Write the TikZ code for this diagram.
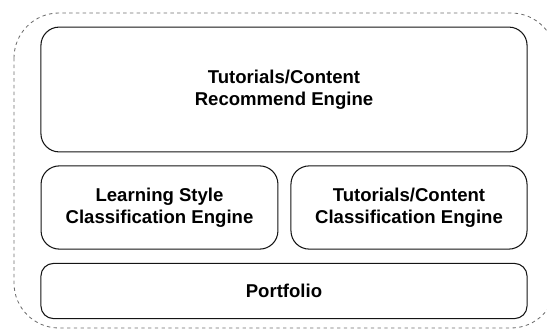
\documentclass[tikz,border=0pt]{standalone}
\usepackage{fontspec}
\setmainfont{Liberation Sans}
\usepackage{tikz}
\usetikzlibrary{positioning}
\definecolor{mydark}{RGB}{20,20,20}
\definecolor{mgframe}{RGB}{110,110,110}
\tikzset{
  block/.style={rectangle, draw=mydark, fill=white,
    align=center, font=\fontsize{13.2}{15.6}\selectfont\bfseries,
    rounded corners=13pt, line width=0.75pt, inner sep=0pt},
  frame/.style={dashed, dash pattern=on 2.4pt off 2.4pt, color=mgframe,
    line width=0.6pt, rounded corners=32pt}
}
\begin{document}
\begin{tikzpicture}[x=0.025cm, y=-0.025cm]
  \useasboundingbox (0,0) rectangle (547,329);
  % outer dashed container
  \draw[frame] (14,13) rectangle (556,328);

  % engines
  \node[block, minimum width=12.15cm, minimum height=3.12cm] (recommend) at (284,89.5)
    {Tutorials/Content\\Recommend Engine};
  \node[block, minimum width=5.92cm, minimum height=2.08cm] (lsce) at (159.5,207.5)
    {Learning Style\\Classification Engine};
  \node[block, minimum width=5.9cm, minimum height=2.08cm] (tcce) at (409,207.5)
    {Tutorials/Content\\Classification Engine};

  % storage
  \node[block, rounded corners=9pt, minimum width=12.15cm, minimum height=1.38cm] (portfolio) at (284,291)
    {Portfolio};
\end{tikzpicture}
\end{document}
